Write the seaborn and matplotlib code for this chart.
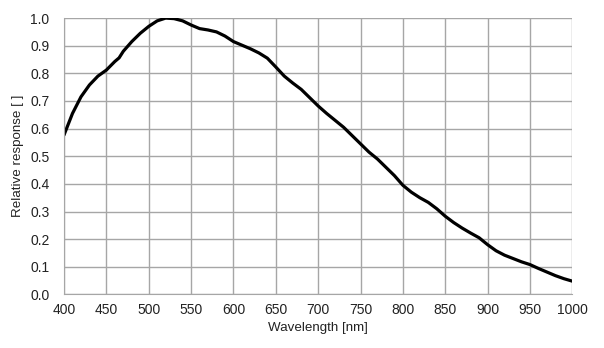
import matplotlib
matplotlib.use("Agg")
import matplotlib.pyplot as plt
import seaborn as sns
import pandas as pd

wavelength = [400, 410, 420, 430, 440, 450, 460, 465, 470, 480, 490, 500, 510, 520, 530,
              540, 550, 560, 570, 580, 590, 600, 610, 620, 630, 640, 650, 660, 670, 680,
              690, 700, 710, 720, 730, 740, 750, 760, 770, 780, 790, 800, 810, 820, 830,
              840, 850, 860, 870, 880, 890, 900, 910, 920, 930, 940, 950, 960, 970, 980,
              990, 1000]
response = [0.577, 0.655, 0.715, 0.758, 0.790, 0.812, 0.843, 0.856, 0.880, 0.915, 0.945,
            0.970, 0.990, 1.000, 0.998, 0.990, 0.975, 0.962, 0.957, 0.950, 0.935, 0.915,
            0.902, 0.889, 0.874, 0.855, 0.823, 0.790, 0.765, 0.742, 0.712, 0.682, 0.655,
            0.630, 0.605, 0.575, 0.545, 0.515, 0.490, 0.460, 0.430, 0.395, 0.370, 0.350,
            0.333, 0.310, 0.283, 0.260, 0.240, 0.222, 0.205, 0.180, 0.158, 0.142, 0.130,
            0.118, 0.108, 0.094, 0.081, 0.068, 0.057, 0.048]
x_ticks = [400, 450, 500, 550, 600, 650, 700, 750, 800, 850, 900, 950, 1000]
y_ticks = [0.0, 0.1, 0.2, 0.3, 0.4, 0.5, 0.6, 0.7, 0.8, 0.9, 1.0]

df = pd.DataFrame({"Wavelength": wavelength, "Response": response})

sns.set_style("white")
plt.rcParams['font.family'] = ['Liberation Sans', 'DejaVu Sans']

fig = plt.figure(figsize=(6.04, 3.48), dpi=100)
ax = fig.add_axes([0.106, 0.154, 0.8415, 0.794])

sns.lineplot(data=df, x="Wavelength", y="Response", ax=ax, color="black", linewidth=2.3)

ax.set_xlim(400, 1000)
ax.set_ylim(0, 1.0)
ax.set_xticks(x_ticks)
ax.set_yticks(y_ticks)
ax.set_xticklabels([str(t) for t in x_ticks])
ax.set_yticklabels([f"{t:.1f}" for t in y_ticks])
ax.grid(True, color="#a6a6a6", linewidth=1.0)
ax.set_axisbelow(True)
for s in ax.spines.values():
    s.set_visible(False)
ax.spines['bottom'].set_visible(True)
ax.spines['bottom'].set_color("#a6a6a6")
ax.spines['left'].set_visible(True)
ax.spines['left'].set_color("#a6a6a6")
ax.tick_params(axis='x', length=3, width=1, color="#a6a6a6", labelsize=10, pad=3, labelcolor="#222222")
ax.tick_params(axis='y', length=3, width=1, color="#a6a6a6", labelsize=10, pad=7.5, labelcolor="#222222")
ax.set_xlabel("Wavelength [nm]", fontsize=9.6, color="#222222", labelpad=4)
ax.set_ylabel("Relative response [ ]", fontsize=9.6, color="#222222")
ax.yaxis.set_label_coords(-0.0787, 0.5)

fig.savefig("out.png", dpi=100)
